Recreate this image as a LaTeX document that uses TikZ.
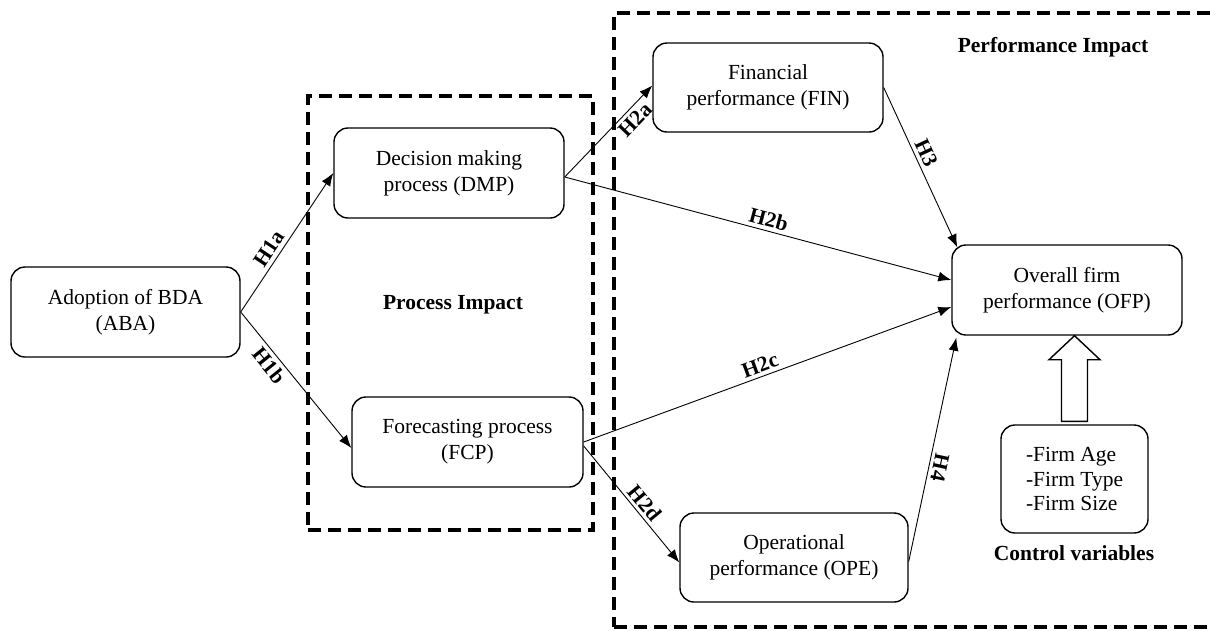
\documentclass[tikz,border=0pt]{standalone}
\usepackage{fontspec}
\setmainfont{Liberation Serif}
\usetikzlibrary{arrows.meta,calc}
\begin{document}
\begin{tikzpicture}[x=1pt,y=-1pt,
  box/.style={draw, line width=1.4pt, rounded corners=14pt, align=center,
    font=\fontsize{21.5}{26}\selectfont, inner sep=0pt},
  arr/.style={line width=0.9pt, -{Latex[length=13pt,width=10pt]}},
  rarr/.style={line width=0.9pt, {Latex[length=13pt,width=10pt]}-},
  lbl/.style={font=\bfseries\fontsize{21.5}{26}\selectfont, inner sep=1.5pt, sloped},
  zone/.style={draw, line width=3.6pt, dash pattern=on 13pt off 7pt, inner sep=0pt},
  title/.style={font=\bfseries\fontsize{21.5}{26}\selectfont},
  blk/.style={draw, line width=1.4pt, fill=white, line join=miter}
]
\useasboundingbox[fill=white] (0,0) rectangle (1210,630);

% zones
\node[zone, minimum width=285pt, minimum height=434pt] (PROC) at (450.5,313) {};
\node[zone, minimum width=611pt, minimum height=614pt] (PERF) at (919.5,320) {};

% boxes
\node[box, minimum width=229pt, minimum height=90pt] (ABA) at (125.5,312) {Adoption of BDA\\(ABA)};
\node[box, minimum width=230pt, minimum height=90pt] (DMP) at (449,173) {Decision making\\process (DMP)};
\node[box, minimum width=231pt, minimum height=90pt] (FCP) at (467.5,442) {Forecasting process\\(FCP)};
\node[box, minimum width=230pt, minimum height=89pt] (FIN) at (768,87.5) {Financial\\performance (FIN)};
\node[box, minimum width=230pt, minimum height=90pt] (OFP) at (1067,290) {Overall firm\\performance (OFP)};
\node[box, minimum width=228pt, minimum height=89pt] (OPE) at (794,557.5) {Operational\\performance (OPE)};
\node[box, minimum width=147pt, minimum height=108pt, align=left,
  font=\fontsize{21.5}{24.5}\selectfont] (CTRL) at (1074.5,479) {-Firm Age\\-Firm Type\\-Firm Size};

% titles
\node[title] (PI) at (453,305) {Process Impact};
\node[title] (PFI) at (1053,47) {Performance Impact};
\node[title] (CV) at (1074,553) {Control variables};

% connectors
\draw[arr] (ABA.east) -- (DMP.west) node[lbl, pos=.41, above=2pt]{H1a};
\draw[arr] (ABA.east) -- ([yshift=-6pt]FCP.west) node[lbl, pos=.34, below=2pt]{H1b};
\draw[arr] ([yshift=-4pt]DMP.east) -- ([yshift=2pt]FIN.west) node[lbl, pos=.71, below=2pt]{H2a};
\draw[arr] ([yshift=-4pt]DMP.east) -- ([yshift=10pt]OFP.west) node[lbl, pos=.52, above=2pt]{H2b};
\draw[arr] (FCP.east) -- ([yshift=-17pt]OFP.west) node[lbl, pos=.49, above=2pt]{H2c};
\draw[arr] ([yshift=-4pt]FCP.east) -- ([yshift=-5pt]OPE.west) node[lbl, pos=.55, above=2pt]{H2d};
\draw[arr] (FIN.east) -- ([xshift=6pt,yshift=-3pt]OFP.north west) node[lbl, pos=.44, above=2pt]{H3};
\draw[rarr] ([xshift=5pt,yshift=-2pt]OFP.south west) -- ([yshift=-4pt]OPE.east)
  node[lbl, pos=.57, above=2pt, allow upside down]{H4};

% block arrow
\coordinate (bt) at (CTRL.north |- OFP.south);
\draw[blk] (bt) -- ($(bt)+(25.5,24)$) -- ($(bt)+(13,24)$) -- ($(CTRL.north)+(13,-3)$)
  -- ($(CTRL.north)+(-13,-3)$) -- ($(bt)+(-13,24)$) -- ($(bt)+(-25.5,24)$) -- cycle;
\end{tikzpicture}
\end{document}
